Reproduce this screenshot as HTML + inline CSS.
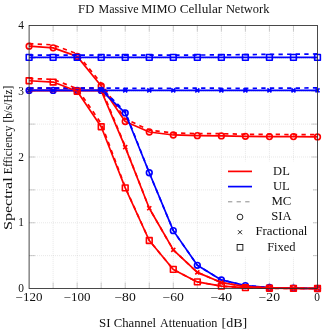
<!DOCTYPE html>
<html><head><meta charset="utf-8"><title>FD Massive MIMO Cellular Network</title>
<style>html,body{margin:0;padding:0;background:#fff}svg{display:block;will-change:transform}text{font-family:"Liberation Serif",serif;fill:#111;font-size:11.5px}</style></head><body>
<svg width="325" height="334" viewBox="0 0 325 334">
<rect width="325" height="334" fill="#fff"/>
<path d="M53.13 25.50 V288.50 M77.17 25.50 V288.50 M101.20 25.50 V288.50 M125.23 25.50 V288.50 M149.27 25.50 V288.50 M173.30 25.50 V288.50 M197.33 25.50 V288.50 M221.37 25.50 V288.50 M245.40 25.50 V288.50 M269.43 25.50 V288.50 M293.47 25.50 V288.50 M29.10 255.62 H317.50 M29.10 222.75 H317.50 M29.10 189.88 H317.50 M29.10 157.00 H317.50 M29.10 124.12 H317.50 M29.10 91.25 H317.50 M29.10 58.38 H317.50" stroke="#b8b8b8" stroke-width="0.55" stroke-dasharray="0.6 1.4" fill="none"/>
<path d="M53.13 288.50 v-6 M53.13 25.50 v6 M77.17 288.50 v-6 M77.17 25.50 v6 M101.20 288.50 v-6 M101.20 25.50 v6 M125.23 288.50 v-6 M125.23 25.50 v6 M149.27 288.50 v-6 M149.27 25.50 v6 M173.30 288.50 v-6 M173.30 25.50 v6 M197.33 288.50 v-6 M197.33 25.50 v6 M221.37 288.50 v-6 M221.37 25.50 v6 M245.40 288.50 v-6 M245.40 25.50 v6 M269.43 288.50 v-6 M269.43 25.50 v6 M293.47 288.50 v-6 M293.47 25.50 v6 M29.10 255.62 h6 M317.50 255.62 h-6 M29.10 222.75 h6 M317.50 222.75 h-6 M29.10 189.88 h6 M317.50 189.88 h-6 M29.10 157.00 h6 M317.50 157.00 h-6 M29.10 124.12 h6 M317.50 124.12 h-6 M29.10 91.25 h6 M317.50 91.25 h-6 M29.10 58.38 h6 M317.50 58.38 h-6" stroke="#808080" stroke-width="0.4" fill="none"/>
<g fill="none" stroke-linejoin="round">
<path d="M29.10 46.21 L53.13 47.85 L77.17 56.40 L101.20 85.99 L125.23 121.50 L149.27 132.02 L173.30 134.97 L197.33 135.63 L221.37 135.96 L245.40 136.29 L269.43 136.62 L293.47 136.62 L317.50 136.95" stroke="#ff0000" stroke-width="1.70"/>
<circle cx="29.10" cy="46.21" r="2.86" stroke="#ff0000" stroke-width="1.60"/>
<circle cx="53.13" cy="47.85" r="2.86" stroke="#ff0000" stroke-width="1.60"/>
<circle cx="77.17" cy="56.40" r="2.86" stroke="#ff0000" stroke-width="1.60"/>
<circle cx="101.20" cy="85.99" r="2.86" stroke="#ff0000" stroke-width="1.60"/>
<circle cx="125.23" cy="121.50" r="2.86" stroke="#ff0000" stroke-width="1.60"/>
<circle cx="149.27" cy="132.02" r="2.86" stroke="#ff0000" stroke-width="1.60"/>
<circle cx="173.30" cy="134.97" r="2.86" stroke="#ff0000" stroke-width="1.60"/>
<circle cx="197.33" cy="135.63" r="2.86" stroke="#ff0000" stroke-width="1.60"/>
<circle cx="221.37" cy="135.96" r="2.86" stroke="#ff0000" stroke-width="1.60"/>
<circle cx="245.40" cy="136.29" r="2.86" stroke="#ff0000" stroke-width="1.60"/>
<circle cx="269.43" cy="136.62" r="2.86" stroke="#ff0000" stroke-width="1.60"/>
<circle cx="293.47" cy="136.62" r="2.86" stroke="#ff0000" stroke-width="1.60"/>
<circle cx="317.50" cy="136.95" r="2.86" stroke="#ff0000" stroke-width="1.60"/>
<path d="M29.10 43.58 L53.13 44.90 L77.17 53.77 L101.20 83.36 L125.23 118.87 L149.27 130.04 L173.30 133.00 L197.33 133.66 L221.37 133.66 L245.40 134.32 L269.43 134.32 L293.47 134.65 L317.50 134.64" stroke="#ff0000" stroke-width="1.70" stroke-dasharray="4.3 4.3"/>
<path d="M29.10 90.40 L53.13 90.40 L77.17 90.40 L101.20 90.40 L125.23 112.95 L149.27 172.78 L173.30 230.64 L197.33 265.29 L221.37 279.95 L245.40 285.54 L269.43 287.51 L293.47 288.17 L317.50 288.50" stroke="#0000ff" stroke-width="1.70"/>
<circle cx="29.10" cy="90.40" r="2.86" stroke="#0000ff" stroke-width="1.60"/>
<circle cx="53.13" cy="90.40" r="2.86" stroke="#0000ff" stroke-width="1.60"/>
<circle cx="77.17" cy="90.40" r="2.86" stroke="#0000ff" stroke-width="1.60"/>
<circle cx="101.20" cy="90.40" r="2.86" stroke="#0000ff" stroke-width="1.60"/>
<circle cx="125.23" cy="112.95" r="2.86" stroke="#0000ff" stroke-width="1.60"/>
<circle cx="149.27" cy="172.78" r="2.86" stroke="#0000ff" stroke-width="1.60"/>
<circle cx="173.30" cy="230.64" r="2.86" stroke="#0000ff" stroke-width="1.60"/>
<circle cx="197.33" cy="265.29" r="2.86" stroke="#0000ff" stroke-width="1.60"/>
<circle cx="221.37" cy="279.95" r="2.86" stroke="#0000ff" stroke-width="1.60"/>
<circle cx="245.40" cy="285.54" r="2.86" stroke="#0000ff" stroke-width="1.60"/>
<circle cx="269.43" cy="287.51" r="2.86" stroke="#0000ff" stroke-width="1.60"/>
<circle cx="293.47" cy="288.17" r="2.86" stroke="#0000ff" stroke-width="1.60"/>
<circle cx="317.50" cy="288.50" r="2.86" stroke="#0000ff" stroke-width="1.60"/>
<path d="M29.10 88.09 L53.13 88.09 L77.17 88.09 L101.20 88.09 L125.23 111.63 L149.27 172.78 L173.30 230.64 L197.33 265.29 L221.37 279.95 L245.40 285.54 L269.43 287.51 L293.47 288.17 L317.50 288.50" stroke="#0000ff" stroke-width="1.70" stroke-dasharray="4.3 4.3"/>
<path d="M29.10 90.59 L53.13 90.59 L77.17 90.59 L101.20 90.59 L125.23 147.14 L149.27 208.28 L173.30 249.90 L197.33 272.39 L221.37 282.58 L245.40 286.53 L269.43 287.84 L293.47 288.30 L317.50 288.50" stroke="#ff0000" stroke-width="1.70"/>
<path d="M27.08 88.57 l4.04 4.04 m0 -4.04 l-4.04 4.04" stroke="#ff0000" stroke-width="1.60"/>
<path d="M51.11 88.57 l4.04 4.04 m0 -4.04 l-4.04 4.04" stroke="#ff0000" stroke-width="1.60"/>
<path d="M75.15 88.57 l4.04 4.04 m0 -4.04 l-4.04 4.04" stroke="#ff0000" stroke-width="1.60"/>
<path d="M99.18 88.57 l4.04 4.04 m0 -4.04 l-4.04 4.04" stroke="#ff0000" stroke-width="1.60"/>
<path d="M123.21 145.12 l4.04 4.04 m0 -4.04 l-4.04 4.04" stroke="#ff0000" stroke-width="1.60"/>
<path d="M147.25 206.26 l4.04 4.04 m0 -4.04 l-4.04 4.04" stroke="#ff0000" stroke-width="1.60"/>
<path d="M171.28 247.88 l4.04 4.04 m0 -4.04 l-4.04 4.04" stroke="#ff0000" stroke-width="1.60"/>
<path d="M195.31 270.37 l4.04 4.04 m0 -4.04 l-4.04 4.04" stroke="#ff0000" stroke-width="1.60"/>
<path d="M219.35 280.56 l4.04 4.04 m0 -4.04 l-4.04 4.04" stroke="#ff0000" stroke-width="1.60"/>
<path d="M243.38 284.51 l4.04 4.04 m0 -4.04 l-4.04 4.04" stroke="#ff0000" stroke-width="1.60"/>
<path d="M267.41 285.82 l4.04 4.04 m0 -4.04 l-4.04 4.04" stroke="#ff0000" stroke-width="1.60"/>
<path d="M291.45 286.28 l4.04 4.04 m0 -4.04 l-4.04 4.04" stroke="#ff0000" stroke-width="1.60"/>
<path d="M315.48 286.48 l4.04 4.04 m0 -4.04 l-4.04 4.04" stroke="#ff0000" stroke-width="1.60"/>
<path d="M29.10 88.29 L53.13 88.29 L77.17 88.29 L101.20 88.29 L125.23 146.48 L149.27 208.28 L173.30 249.90 L197.33 272.39 L221.37 282.58 L245.40 286.53 L269.43 287.84 L293.47 288.30 L317.50 288.50" stroke="#ff0000" stroke-width="1.70" stroke-dasharray="4.3 4.3"/>
<path d="M29.10 90.40 L53.13 90.40 L77.17 90.40 L101.20 90.40 L125.23 90.40 L149.27 90.40 L173.30 90.40 L197.33 90.40 L221.37 90.40 L245.40 90.40 L269.43 90.40 L293.47 90.40 L317.50 90.40" stroke="#0000ff" stroke-width="1.70"/>
<path d="M27.08 88.38 l4.04 4.04 m0 -4.04 l-4.04 4.04" stroke="#0000ff" stroke-width="1.60"/>
<path d="M51.11 88.38 l4.04 4.04 m0 -4.04 l-4.04 4.04" stroke="#0000ff" stroke-width="1.60"/>
<path d="M75.15 88.38 l4.04 4.04 m0 -4.04 l-4.04 4.04" stroke="#0000ff" stroke-width="1.60"/>
<path d="M99.18 88.38 l4.04 4.04 m0 -4.04 l-4.04 4.04" stroke="#0000ff" stroke-width="1.60"/>
<path d="M123.21 88.38 l4.04 4.04 m0 -4.04 l-4.04 4.04" stroke="#0000ff" stroke-width="1.60"/>
<path d="M147.25 88.38 l4.04 4.04 m0 -4.04 l-4.04 4.04" stroke="#0000ff" stroke-width="1.60"/>
<path d="M171.28 88.38 l4.04 4.04 m0 -4.04 l-4.04 4.04" stroke="#0000ff" stroke-width="1.60"/>
<path d="M195.31 88.38 l4.04 4.04 m0 -4.04 l-4.04 4.04" stroke="#0000ff" stroke-width="1.60"/>
<path d="M219.35 88.38 l4.04 4.04 m0 -4.04 l-4.04 4.04" stroke="#0000ff" stroke-width="1.60"/>
<path d="M243.38 88.38 l4.04 4.04 m0 -4.04 l-4.04 4.04" stroke="#0000ff" stroke-width="1.60"/>
<path d="M267.41 88.38 l4.04 4.04 m0 -4.04 l-4.04 4.04" stroke="#0000ff" stroke-width="1.60"/>
<path d="M291.45 88.38 l4.04 4.04 m0 -4.04 l-4.04 4.04" stroke="#0000ff" stroke-width="1.60"/>
<path d="M315.48 88.38 l4.04 4.04 m0 -4.04 l-4.04 4.04" stroke="#0000ff" stroke-width="1.60"/>
<path d="M29.10 88.23 L53.13 88.03 L77.17 88.23 L101.20 88.03 L125.23 88.23 L149.27 88.42 L173.30 88.23 L197.33 88.03 L221.37 88.23 L245.40 88.42 L269.43 88.09 L293.47 88.09 L317.50 87.90" stroke="#0000ff" stroke-width="1.70" stroke-dasharray="4.3 4.3"/>
<path d="M29.10 80.73 L53.13 82.04 L77.17 91.25 L101.20 126.75 L125.23 187.90 L149.27 240.50 L173.30 269.43 L197.33 281.93 L221.37 286.20 L245.40 287.71 L269.43 288.24 L293.47 288.43 L317.50 288.50" stroke="#ff0000" stroke-width="1.70"/>
<rect x="26.24" y="77.87" width="5.72" height="5.72" stroke="#ff0000" stroke-width="1.60"/>
<rect x="50.27" y="79.18" width="5.72" height="5.72" stroke="#ff0000" stroke-width="1.60"/>
<rect x="74.31" y="88.39" width="5.72" height="5.72" stroke="#ff0000" stroke-width="1.60"/>
<rect x="98.34" y="123.89" width="5.72" height="5.72" stroke="#ff0000" stroke-width="1.60"/>
<rect x="122.37" y="185.04" width="5.72" height="5.72" stroke="#ff0000" stroke-width="1.60"/>
<rect x="146.41" y="237.64" width="5.72" height="5.72" stroke="#ff0000" stroke-width="1.60"/>
<rect x="170.44" y="266.57" width="5.72" height="5.72" stroke="#ff0000" stroke-width="1.60"/>
<rect x="194.47" y="279.06" width="5.72" height="5.72" stroke="#ff0000" stroke-width="1.60"/>
<rect x="218.51" y="283.34" width="5.72" height="5.72" stroke="#ff0000" stroke-width="1.60"/>
<rect x="242.54" y="284.85" width="5.72" height="5.72" stroke="#ff0000" stroke-width="1.60"/>
<rect x="266.57" y="285.38" width="5.72" height="5.72" stroke="#ff0000" stroke-width="1.60"/>
<rect x="290.61" y="285.57" width="5.72" height="5.72" stroke="#ff0000" stroke-width="1.60"/>
<rect x="314.64" y="285.64" width="5.72" height="5.72" stroke="#ff0000" stroke-width="1.60"/>
<path d="M29.10 78.43 L53.13 79.41 L77.17 88.62 L101.20 123.47 L125.23 187.25 L149.27 240.50 L173.30 269.43 L197.33 281.93 L221.37 286.20 L245.40 287.71 L269.43 288.24 L293.47 288.43 L317.50 288.50" stroke="#ff0000" stroke-width="1.70" stroke-dasharray="4.3 4.3"/>
<path d="M29.10 57.39 L53.13 57.39 L77.17 57.39 L101.20 57.39 L125.23 57.39 L149.27 57.39 L173.30 57.39 L197.33 57.39 L221.37 57.39 L245.40 57.39 L269.43 57.39 L293.47 57.39 L317.50 57.39" stroke="#0000ff" stroke-width="1.70"/>
<rect x="26.24" y="54.53" width="5.72" height="5.72" stroke="#0000ff" stroke-width="1.60"/>
<rect x="50.27" y="54.53" width="5.72" height="5.72" stroke="#0000ff" stroke-width="1.60"/>
<rect x="74.31" y="54.53" width="5.72" height="5.72" stroke="#0000ff" stroke-width="1.60"/>
<rect x="98.34" y="54.53" width="5.72" height="5.72" stroke="#0000ff" stroke-width="1.60"/>
<rect x="122.37" y="54.53" width="5.72" height="5.72" stroke="#0000ff" stroke-width="1.60"/>
<rect x="146.41" y="54.53" width="5.72" height="5.72" stroke="#0000ff" stroke-width="1.60"/>
<rect x="170.44" y="54.53" width="5.72" height="5.72" stroke="#0000ff" stroke-width="1.60"/>
<rect x="194.47" y="54.53" width="5.72" height="5.72" stroke="#0000ff" stroke-width="1.60"/>
<rect x="218.51" y="54.53" width="5.72" height="5.72" stroke="#0000ff" stroke-width="1.60"/>
<rect x="242.54" y="54.53" width="5.72" height="5.72" stroke="#0000ff" stroke-width="1.60"/>
<rect x="266.57" y="54.53" width="5.72" height="5.72" stroke="#0000ff" stroke-width="1.60"/>
<rect x="290.61" y="54.53" width="5.72" height="5.72" stroke="#0000ff" stroke-width="1.60"/>
<rect x="314.64" y="54.53" width="5.72" height="5.72" stroke="#0000ff" stroke-width="1.60"/>
<path d="M29.10 55.22 L53.13 55.02 L77.17 55.22 L101.20 55.02 L125.23 55.22 L149.27 55.22 L173.30 55.22 L197.33 55.02 L221.37 54.89 L245.40 54.63 L269.43 54.36 L293.47 54.23 L317.50 53.97" stroke="#0000ff" stroke-width="1.70" stroke-dasharray="4.3 4.3"/>
</g>
<rect x="29.10" y="25.50" width="288.40" height="263.00" fill="none" stroke="#2a2a2a" stroke-width="0.85"/>
<rect x="222.5" y="161.5" width="90.5" height="96" fill="#fff"/>
<path d="M228 171.4 H252" stroke="#ff0000" stroke-width="1.70"/>
<path d="M228 186.6 H252" stroke="#0000ff" stroke-width="1.70"/>
<path d="M228 201.8 H252" stroke="#666" stroke-width="0.75" stroke-dasharray="4.3 4.3"/>
<circle cx="240" cy="217.0" r="2.86" stroke="#111" stroke-width="0.9" fill="none"/>
<path d="M237.98 230.2 l4.04 4.04 m0 -4.04 l-4.04 4.04" stroke="#111" stroke-width="0.9" fill="none"/>
<rect x="237.14" y="244.5" width="5.72" height="5.72" stroke="#111" stroke-width="0.9" fill="none"/>
<text x="273.1" y="174.6" textLength="16.7" lengthAdjust="spacingAndGlyphs">DL</text>
<text x="272.9" y="189.8" textLength="16.9" lengthAdjust="spacingAndGlyphs">UL</text>
<text x="271.4" y="205.0" textLength="19.9" lengthAdjust="spacingAndGlyphs">MC</text>
<text x="271.2" y="220.2" textLength="20.4" lengthAdjust="spacingAndGlyphs">SIA</text>
<text x="255.4" y="235.3" textLength="52.0" lengthAdjust="spacingAndGlyphs">Fractional</text>
<text x="267.2" y="250.6" textLength="28.4" lengthAdjust="spacingAndGlyphs">Fixed</text>
<text x="15.6" y="300.6" textLength="26.8" lengthAdjust="spacingAndGlyphs">−120</text>
<text x="63.7" y="300.6" textLength="26.8" lengthAdjust="spacingAndGlyphs">−100</text>
<text x="114.4" y="300.6" textLength="21.4" lengthAdjust="spacingAndGlyphs">−80</text>
<text x="162.5" y="300.6" textLength="21.4" lengthAdjust="spacingAndGlyphs">−60</text>
<text x="210.6" y="300.6" textLength="21.4" lengthAdjust="spacingAndGlyphs">−40</text>
<text x="258.6" y="300.6" textLength="21.4" lengthAdjust="spacingAndGlyphs">−20</text>
<text x="314.3" y="300.6" textLength="5.7" lengthAdjust="spacingAndGlyphs">0</text>
<text x="18.2" y="292.1" textLength="5.7" lengthAdjust="spacingAndGlyphs">0</text>
<text x="18.2" y="226.3" textLength="5.7" lengthAdjust="spacingAndGlyphs">1</text>
<text x="18.2" y="160.6" textLength="5.7" lengthAdjust="spacingAndGlyphs">2</text>
<text x="18.2" y="94.8" textLength="5.7" lengthAdjust="spacingAndGlyphs">3</text>
<text x="18.2" y="29.1" textLength="5.7" lengthAdjust="spacingAndGlyphs">4</text>
<text x="78.1" y="12.7" textLength="16.2" lengthAdjust="spacingAndGlyphs">FD</text>
<text x="98.5" y="12.7" textLength="40.1" lengthAdjust="spacingAndGlyphs">Massive</text>
<text x="141.3" y="12.7" textLength="35.1" lengthAdjust="spacingAndGlyphs">MIMO</text>
<text x="179.7" y="12.7" textLength="42.5" lengthAdjust="spacingAndGlyphs">Cellular</text>
<text x="225.9" y="12.7" textLength="43.5" lengthAdjust="spacingAndGlyphs">Network</text>
<text x="99.0" y="326.5" textLength="11.5" lengthAdjust="spacingAndGlyphs">SI</text>
<text x="113.7" y="326.5" textLength="42.4" lengthAdjust="spacingAndGlyphs">Channel</text>
<text x="160.0" y="326.5" textLength="57.4" lengthAdjust="spacingAndGlyphs">Attenuation</text>
<text x="221.5" y="326.5" textLength="25.8" lengthAdjust="spacingAndGlyphs">[dB]</text>
<g transform="translate(12.2 229.5) rotate(-90)">
<text x="-0.5" y="0.0" textLength="52.6" lengthAdjust="spacingAndGlyphs">Spectral</text>
<text x="55.3" y="0.0" textLength="48.5" lengthAdjust="spacingAndGlyphs">Efficiency</text>
<text x="107.0" y="0.0" textLength="36.7" lengthAdjust="spacingAndGlyphs">[b/s/Hz]</text>
</g>
</svg></body></html>
